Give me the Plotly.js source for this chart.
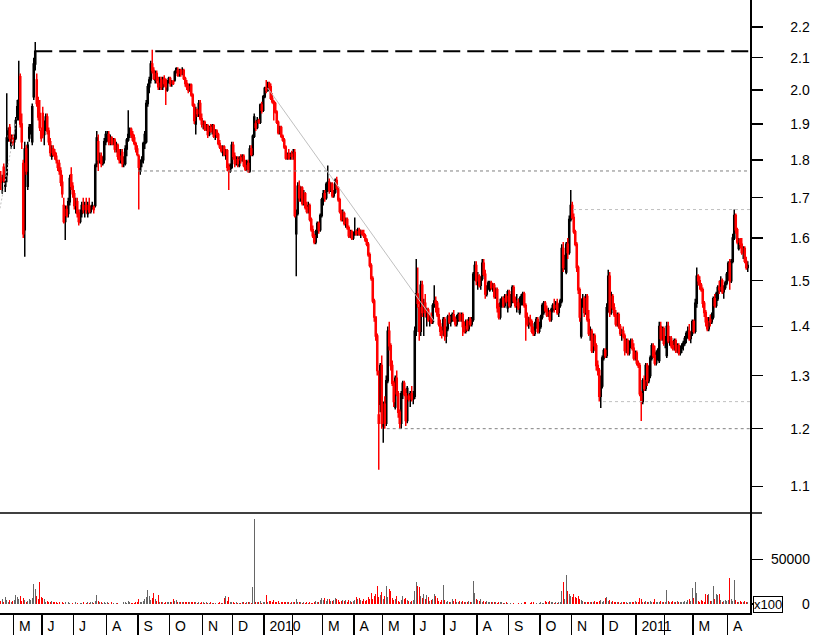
<!DOCTYPE html>
<html><head><meta charset="utf-8">
<script src="https://cdn.plot.ly/plotly-3.0.1.min.js"></script>
<style>html,body{margin:0;padding:0;background:#fff}#chart{width:817px;height:635px}</style>
</head><body><div id="chart"></div>
<script>
// ---- daily bars, Apr 2009 .. Apr 2011 (one line per month) ----
const opens = [].concat(
 [1.75,1.74,1.78,1.73,1.76,1.87,1.89,1.84,1.865],
 [1.85,1.86,1.92,1.95,2.04,1.90,1.79,1.62,1.83,1.73,1.86,1.88,1.85,1.98,2.08,2.03,1.96,1.93,1.86],
 [1.93,1.87,1.90,1.92,1.88,1.85,1.81,1.83,1.82,1.81,1.78,1.79,1.77,1.74,1.68,1.64,1.67,1.66,1.69,1.76,1.73],
 [1.71,1.68,1.69,1.66,1.64,1.66,1.68,1.67,1.68,1.66,1.68,1.665,1.675,1.67,1.68,1.79,1.85,1.80,1.81,1.79,1.80,1.85],
 [1.86,1.87,1.85,1.86,1.845,1.855,1.83,1.84,1.81,1.80,1.82,1.79,1.79,1.83,1.855,1.87,1.885,1.87,1.86,1.845,1.83],
 [1.81,1.77,1.795,1.80,1.845,1.85,1.96,2.01,2.03,2.08,2.06,2.03,2.05,2.02,2.01,2.03,2.01,2.035,2.03,2.00,2.025],
 [2.035,2.02,2.025,2.03,2.055,2.06,2.045,2.06,2.05,2.06,2.035,2.02,2.01,2.00,2.015,1.985,1.955,1.90,1.94,1.93,1.96,1.915],
 [1.90,1.905,1.885,1.895,1.87,1.89,1.88,1.895,1.865,1.88,1.87,1.845,1.835,1.82,1.835,1.815,1.825,1.78,1.77,1.78],
 [1.84,1.81,1.79,1.80,1.785,1.805,1.80,1.81,1.785,1.775,1.79,1.77,1.83,1.815,1.865,1.90,1.89,1.91,1.905,1.955,1.94],
 [1.98,2.005,2.00,2.02,2.01,1.975,1.965,1.96,1.935,1.905,1.875,1.89,1.865,1.855,1.835,1.805,1.815,1.805,1.815],
 [1.81,1.82,1.61,1.66,1.73,1.70,1.725,1.685,1.71,1.675,1.665,1.68,1.645,1.62,1.605,1.59,1.615,1.635,1.62,1.655],
 [1.695,1.71,1.70,1.72,1.74,1.72,1.735,1.705,1.715,1.745,1.725,1.695,1.665,1.645,1.66,1.635,1.645,1.625,1.605,1.615,1.60],
 [1.61,1.615,1.61,1.62,1.61,1.615,1.61,1.605,1.595,1.585,1.56,1.535,1.505,1.455,1.42,1.38,1.21,1.245,1.32],
 [1.205,1.245,1.21,1.29,1.39,1.36,1.32,1.285,1.24,1.295,1.265,1.23,1.21,1.265,1.285,1.265,1.215,1.255,1.26,1.265,1.255],
 [1.26,1.39,1.47,1.44,1.39,1.49,1.43,1.45,1.42,1.435,1.415,1.42,1.41,1.445,1.455,1.45,1.425,1.405,1.39,1.385],
 [1.415,1.38,1.395,1.42,1.41,1.42,1.425,1.415,1.405,1.42,1.425,1.415,1.425,1.40,1.39,1.41,1.395,1.415,1.405,1.415,1.515,1.535],
 [1.50,1.51,1.49,1.505,1.54,1.515,1.47,1.485,1.48,1.495,1.485,1.49,1.465,1.48,1.44,1.42,1.45,1.46,1.445,1.465,1.44],
 [1.475,1.445,1.46,1.485,1.455,1.445,1.45,1.43,1.46,1.45,1.47,1.445,1.42,1.405,1.415,1.41,1.39,1.385,1.405,1.415,1.39],
 [1.40,1.42,1.43,1.45,1.435,1.425,1.43,1.415,1.435,1.445,1.44,1.45,1.43,1.445,1.455,1.575,1.53,1.52,1.585,1.565,1.645],
 [1.68,1.65,1.615,1.585,1.53,1.48,1.38,1.455,1.46,1.43,1.465,1.415,1.385,1.39,1.35,1.38,1.36,1.32,1.31,1.26,1.28],
 [1.335,1.35,1.34,1.44,1.51,1.43,1.465,1.44,1.425,1.405,1.425,1.40,1.385,1.39,1.38,1.35,1.37,1.345,1.365,1.37,1.355,1.335],
 [1.345,1.325,1.32,1.265,1.25,1.29,1.275,1.32,1.29,1.30,1.335,1.36,1.34,1.325,1.345,1.33,1.40,1.375,1.395],
 [1.365,1.34,1.40,1.37,1.375,1.36,1.355,1.37,1.35,1.36,1.345,1.355,1.36,1.365,1.375,1.385,1.39,1.375,1.385],
 [1.41,1.39,1.45,1.51,1.50,1.49,1.48,1.45,1.43,1.41,1.395,1.415,1.41,1.42,1.46,1.445,1.46,1.485,1.48,1.50,1.475,1.485,1.495],
 [1.515,1.54,1.50,1.545,1.60,1.655,1.62,1.575,1.595,1.585,1.565,1.575,1.545,1.53]
);
const highs = [].concat(
 [1.77,1.76,1.79,1.76,1.99,1.89,1.90,1.87,1.87],
 [1.87,1.92,1.97,2.09,2.05,1.93,1.80,1.85,1.84,1.85,1.90,1.90,1.96,2.10,2.15,2.05,1.98,1.97,1.89],
 [1.95,1.91,1.93,1.93,1.89,1.86,1.84,1.84,1.83,1.82,1.80,1.80,1.78,1.76,1.70,1.68,1.68,1.70,1.76,1.78,1.74],
 [1.72,1.70,1.70,1.67,1.67,1.69,1.70,1.69,1.70,1.69,1.70,1.68,1.69,1.68,1.79,1.88,1.87,1.82,1.82,1.81,1.86,1.88],
 [1.88,1.88,1.87,1.865,1.86,1.86,1.85,1.845,1.83,1.83,1.83,1.81,1.84,1.86,1.94,1.89,1.89,1.88,1.87,1.85,1.84],
 [1.815,1.80,1.81,1.85,1.88,1.97,2.02,2.04,2.09,2.125,2.07,2.06,2.06,2.04,2.04,2.04,2.04,2.045,2.035,2.03,2.04],
 [2.04,2.03,2.03,2.06,2.07,2.07,2.065,2.065,2.07,2.065,2.04,2.03,2.02,2.02,2.02,1.99,1.96,1.95,1.945,1.97,1.97,1.93],
 [1.91,1.91,1.90,1.90,1.895,1.90,1.90,1.90,1.885,1.885,1.875,1.855,1.84,1.84,1.84,1.83,1.83,1.79,1.79,1.85],
 [1.85,1.82,1.81,1.81,1.81,1.815,1.815,1.815,1.80,1.80,1.80,1.84,1.84,1.87,1.93,1.91,1.92,1.915,1.96,1.965,1.985],
 [2.01,2.03,2.025,2.025,2.02,1.99,1.97,1.965,1.94,1.91,1.895,1.895,1.87,1.86,1.84,1.82,1.83,1.82,1.825],
 [1.83,1.83,1.67,1.74,1.745,1.73,1.73,1.72,1.715,1.69,1.69,1.685,1.65,1.63,1.61,1.62,1.64,1.64,1.66,1.70],
 [1.72,1.72,1.74,1.785,1.75,1.74,1.74,1.72,1.75,1.755,1.73,1.70,1.67,1.67,1.665,1.65,1.65,1.63,1.62,1.62,1.615],
 [1.65,1.62,1.625,1.625,1.62,1.62,1.62,1.61,1.60,1.59,1.565,1.54,1.51,1.46,1.42,1.385,1.31,1.325,1.34],
 [1.25,1.26,1.30,1.40,1.41,1.365,1.33,1.29,1.30,1.31,1.27,1.235,1.27,1.29,1.29,1.275,1.28,1.265,1.27,1.28,1.27],
 [1.40,1.55,1.53,1.46,1.50,1.50,1.46,1.47,1.44,1.44,1.425,1.43,1.45,1.49,1.465,1.455,1.44,1.415,1.40,1.42],
 [1.42,1.40,1.425,1.43,1.425,1.43,1.435,1.42,1.425,1.43,1.43,1.43,1.43,1.41,1.415,1.415,1.42,1.42,1.42,1.52,1.545,1.545],
 [1.52,1.515,1.51,1.55,1.55,1.525,1.49,1.50,1.50,1.50,1.495,1.495,1.485,1.485,1.45,1.46,1.465,1.465,1.47,1.47,1.48],
 [1.48,1.47,1.49,1.49,1.465,1.47,1.46,1.465,1.47,1.475,1.475,1.45,1.43,1.42,1.425,1.415,1.40,1.41,1.42,1.42,1.41],
 [1.425,1.45,1.455,1.455,1.445,1.44,1.435,1.44,1.45,1.46,1.455,1.46,1.45,1.46,1.585,1.59,1.56,1.59,1.60,1.655,1.72],
 [1.69,1.66,1.62,1.59,1.535,1.485,1.46,1.47,1.465,1.47,1.47,1.435,1.40,1.395,1.385,1.385,1.365,1.33,1.315,1.30,1.34],
 [1.355,1.355,1.45,1.525,1.52,1.475,1.47,1.45,1.435,1.43,1.43,1.405,1.395,1.40,1.385,1.375,1.375,1.37,1.375,1.375,1.365,1.35],
 [1.35,1.33,1.325,1.27,1.295,1.30,1.325,1.325,1.32,1.34,1.365,1.365,1.36,1.35,1.355,1.41,1.41,1.40,1.40],
 [1.38,1.41,1.41,1.38,1.38,1.37,1.375,1.375,1.365,1.365,1.36,1.365,1.37,1.38,1.39,1.40,1.405,1.39,1.415],
 [1.415,1.46,1.53,1.515,1.51,1.495,1.485,1.455,1.435,1.42,1.42,1.425,1.43,1.465,1.47,1.475,1.49,1.50,1.51,1.505,1.49,1.50,1.52],
 [1.545,1.55,1.55,1.61,1.67,1.66,1.625,1.60,1.60,1.60,1.58,1.58,1.555,1.545]
);
const lows = [].concat(
 [1.72,1.71,1.74,1.715,1.74,1.85,1.85,1.83,1.84],
 [1.83,1.855,1.91,1.91,1.89,1.83,1.60,1.555,1.76,1.72,1.85,1.87,1.84,1.97,2.06,1.95,1.91,1.88,1.85],
 [1.86,1.84,1.88,1.87,1.84,1.81,1.80,1.81,1.80,1.79,1.77,1.76,1.73,1.70,1.635,1.595,1.65,1.65,1.68,1.72,1.70],
 [1.67,1.66,1.65,1.63,1.635,1.65,1.66,1.65,1.66,1.65,1.66,1.66,1.67,1.66,1.675,1.78,1.77,1.79,1.78,1.785,1.79,1.84],
 [1.85,1.84,1.84,1.84,1.84,1.82,1.82,1.80,1.79,1.79,1.78,1.78,1.785,1.81,1.85,1.86,1.86,1.85,1.84,1.82,1.81],
 [1.67,1.76,1.78,1.79,1.83,1.845,1.95,1.99,2.02,2.05,2.03,2.02,2.02,2.00,2.00,2.00,2.00,2.01,1.955,1.995,2.02],
 [2.01,2.01,2.015,2.025,2.05,2.04,2.04,2.04,2.045,2.03,2.01,2.00,1.99,1.995,1.98,1.95,1.90,1.87,1.92,1.92,1.91,1.89],
 [1.885,1.88,1.88,1.86,1.865,1.875,1.87,1.86,1.855,1.86,1.84,1.83,1.82,1.81,1.81,1.80,1.77,1.72,1.765,1.775],
 [1.80,1.78,1.785,1.78,1.78,1.79,1.795,1.78,1.77,1.77,1.765,1.765,1.81,1.81,1.86,1.88,1.885,1.90,1.90,1.93,1.935],
 [1.975,1.99,1.995,2.00,1.97,1.96,1.91,1.93,1.90,1.87,1.87,1.86,1.85,1.83,1.80,1.80,1.80,1.80,1.80],
 [1.80,1.65,1.51,1.655,1.69,1.69,1.68,1.68,1.67,1.66,1.66,1.64,1.615,1.60,1.585,1.585,1.60,1.61,1.615,1.65],
 [1.68,1.69,1.695,1.715,1.71,1.715,1.70,1.70,1.71,1.72,1.69,1.66,1.64,1.64,1.63,1.625,1.62,1.60,1.60,1.595,1.595],
 [1.605,1.605,1.605,1.605,1.60,1.605,1.60,1.59,1.58,1.555,1.53,1.50,1.45,1.41,1.37,1.30,1.128,1.23,1.20],
 [1.175,1.20,1.205,1.285,1.35,1.31,1.28,1.24,1.235,1.26,1.22,1.20,1.20,1.255,1.26,1.205,1.21,1.25,1.24,1.25,1.245],
 [1.255,1.38,1.44,1.37,1.38,1.42,1.38,1.42,1.40,1.41,1.40,1.405,1.405,1.44,1.43,1.42,1.40,1.38,1.375,1.38],
 [1.37,1.365,1.39,1.405,1.40,1.41,1.41,1.40,1.40,1.41,1.41,1.41,1.38,1.385,1.385,1.39,1.39,1.40,1.40,1.41,1.50,1.49],
 [1.48,1.485,1.48,1.50,1.51,1.46,1.465,1.48,1.475,1.48,1.475,1.46,1.46,1.43,1.415,1.415,1.44,1.44,1.44,1.45,1.43],
 [1.44,1.44,1.45,1.45,1.44,1.43,1.435,1.425,1.445,1.445,1.44,1.37,1.40,1.395,1.40,1.385,1.38,1.38,1.395,1.385,1.385],
 [1.395,1.415,1.425,1.43,1.42,1.42,1.41,1.41,1.43,1.43,1.435,1.425,1.42,1.44,1.45,1.52,1.525,1.515,1.55,1.56,1.64],
 [1.645,1.61,1.58,1.52,1.47,1.41,1.375,1.44,1.42,1.425,1.41,1.38,1.37,1.345,1.345,1.35,1.31,1.30,1.25,1.238,1.275],
 [1.33,1.335,1.335,1.43,1.42,1.425,1.435,1.42,1.40,1.40,1.395,1.38,1.37,1.375,1.34,1.345,1.34,1.34,1.355,1.35,1.33,1.33],
 [1.32,1.315,1.26,1.214,1.245,1.27,1.27,1.28,1.285,1.295,1.33,1.335,1.32,1.32,1.33,1.325,1.37,1.37,1.36],
 [1.355,1.335,1.365,1.36,1.355,1.35,1.35,1.345,1.345,1.34,1.34,1.345,1.35,1.36,1.365,1.375,1.37,1.365,1.38],
 [1.385,1.385,1.44,1.49,1.48,1.475,1.44,1.42,1.40,1.39,1.39,1.40,1.405,1.415,1.44,1.44,1.455,1.47,1.475,1.47,1.46,1.48,1.49],
 [1.50,1.48,1.495,1.54,1.595,1.61,1.585,1.57,1.575,1.56,1.55,1.54,1.525,1.52]
);
const closes = [].concat(
 [1.74,1.75,1.745,1.75,1.86,1.88,1.86,1.865,1.85],
 [1.86,1.91,1.95,1.97,1.90,1.85,1.61,1.83,1.77,1.84,1.89,1.895,1.95,2.08,2.12,1.96,1.92,1.89,1.88],
 [1.87,1.90,1.92,1.88,1.85,1.82,1.83,1.815,1.81,1.80,1.79,1.77,1.74,1.71,1.64,1.67,1.655,1.69,1.75,1.73,1.71],
 [1.68,1.69,1.66,1.64,1.66,1.68,1.67,1.68,1.67,1.68,1.665,1.675,1.68,1.675,1.785,1.86,1.80,1.81,1.79,1.80,1.85,1.87],
 [1.87,1.85,1.86,1.845,1.855,1.83,1.84,1.81,1.80,1.82,1.79,1.80,1.83,1.855,1.87,1.885,1.87,1.855,1.845,1.83,1.815],
 [1.78,1.795,1.80,1.845,1.87,1.96,2.01,2.03,2.08,2.06,2.035,2.05,2.03,2.01,2.03,2.01,2.035,2.02,2.01,2.025,2.035],
 [2.02,2.025,2.02,2.055,2.065,2.045,2.06,2.05,2.06,2.035,2.02,2.01,2.00,2.015,1.985,1.955,1.91,1.94,1.93,1.96,1.915,1.90],
 [1.905,1.885,1.895,1.87,1.89,1.88,1.895,1.865,1.88,1.87,1.845,1.835,1.825,1.835,1.815,1.825,1.78,1.77,1.785,1.84],
 [1.81,1.79,1.80,1.79,1.805,1.80,1.81,1.785,1.775,1.795,1.77,1.83,1.815,1.865,1.92,1.89,1.91,1.905,1.955,1.94,1.98],
 [2.005,2.00,2.02,2.01,1.975,1.965,1.96,1.935,1.905,1.875,1.89,1.865,1.855,1.835,1.805,1.815,1.805,1.815,1.81],
 [1.82,1.655,1.66,1.73,1.70,1.725,1.685,1.71,1.675,1.665,1.68,1.645,1.62,1.605,1.59,1.615,1.635,1.62,1.655,1.695],
 [1.71,1.70,1.735,1.74,1.72,1.735,1.705,1.715,1.745,1.725,1.695,1.665,1.645,1.66,1.635,1.645,1.625,1.605,1.615,1.60,1.61],
 [1.615,1.61,1.62,1.61,1.615,1.61,1.605,1.595,1.585,1.56,1.535,1.505,1.455,1.42,1.38,1.31,1.225,1.32,1.21],
 [1.245,1.21,1.29,1.39,1.36,1.32,1.285,1.25,1.295,1.265,1.23,1.21,1.265,1.285,1.265,1.215,1.275,1.26,1.265,1.255,1.265],
 [1.39,1.47,1.45,1.39,1.49,1.43,1.45,1.43,1.435,1.415,1.42,1.41,1.445,1.455,1.45,1.425,1.405,1.39,1.385,1.415],
 [1.38,1.395,1.42,1.41,1.42,1.425,1.415,1.405,1.42,1.425,1.415,1.425,1.40,1.39,1.41,1.395,1.415,1.405,1.415,1.515,1.535,1.50],
 [1.51,1.49,1.505,1.54,1.515,1.47,1.485,1.495,1.495,1.485,1.49,1.465,1.48,1.44,1.42,1.45,1.46,1.445,1.465,1.455,1.475],
 [1.445,1.46,1.485,1.455,1.445,1.45,1.44,1.46,1.465,1.47,1.445,1.42,1.405,1.415,1.41,1.39,1.385,1.405,1.415,1.39,1.40],
 [1.42,1.445,1.45,1.435,1.425,1.43,1.415,1.435,1.445,1.44,1.45,1.43,1.445,1.455,1.575,1.53,1.55,1.585,1.565,1.645,1.68],
 [1.65,1.615,1.585,1.53,1.48,1.42,1.455,1.46,1.43,1.465,1.415,1.385,1.39,1.35,1.38,1.36,1.32,1.31,1.26,1.28,1.335],
 [1.35,1.34,1.44,1.51,1.43,1.465,1.44,1.425,1.405,1.425,1.40,1.385,1.39,1.38,1.35,1.37,1.345,1.365,1.37,1.355,1.335,1.345],
 [1.325,1.32,1.265,1.25,1.29,1.275,1.32,1.29,1.31,1.335,1.36,1.34,1.325,1.345,1.35,1.40,1.375,1.395,1.365],
 [1.375,1.40,1.37,1.375,1.36,1.355,1.37,1.35,1.36,1.345,1.355,1.36,1.365,1.375,1.385,1.39,1.375,1.385,1.41],
 [1.39,1.45,1.51,1.50,1.49,1.48,1.45,1.43,1.41,1.395,1.415,1.41,1.425,1.46,1.445,1.47,1.485,1.48,1.50,1.475,1.485,1.495,1.515],
 [1.54,1.50,1.545,1.60,1.655,1.62,1.59,1.595,1.585,1.565,1.575,1.545,1.53,1.535]
);
// volume (units of 100 shares)
const volumes = [].concat(
 [4000,6000,3000,8000,5000,2000,5000,3000,4000],
 [5000,10000,8000,6000,9000,4000,7000,5000,3000,4000,6000,5000,7000,23000,16500,9000,6000,25000,8000],
 [7000,6000,3000,4000,2000,3000,4000,2000,3000,2000,1500,3000,0,2000,1500,3000,0,2000,1000,0,1500],
 [0,2000,1500,0,1500,1000,2000,0,1500,2500,1000,2000,3000,1500,4000,10500,4000,2000,3000,1500,3000,1000],
 [2500,1500,0,2000,1000,0,1000,1500,0,0,0,2000,2500,1000,3500,2000,1000,1500,1000,2000,3000],
 [5700,3000,2000,4000,6000,8000,15500,9000,5000,7000,13000,6000,4000,10000,3000,2500,3000,1500,2500,2000,3000],
 [2500,3000,6000,4000,5000,3000,2500,3000,2000,3000,2500,2000,3000,2000,2500,3000,2000,2500,1500,2000,1500,2500],
 [2000,1500,2000,1000,1500,2000,1000,1500,1000,0,1500,2000,1000,1500,7000,9000,4000,8000,3000,2500],
 [2000,1500,2500,1000,1500,1000,3000,2000,1500,2500,3000,2000,1500,19000,95000,2500,3000,2000,4000,1500,2500],
 [3000,10000,2500,4000,3500,2000,4500,3000,2000,3500,1500,2500,3000,2000,3000,2500,2000,1500,2000],
 [2500,3000,6000,2000,2500,3000,1500,2000,1500,2500,1000,2000,1500,1000,2000,3500,2000,3000,5000,6500],
 [5000,7000,4000,6000,5500,3500,4000,5000,7000,5500,4500,3000,4000,5000,3500,4500,3000,5000,4000,2500,3500],
 [5000,7500,6000,7000,4500,3500,6000,4000,5000,8000,6000,12000,6000,9000,11000,20000,8000,10000,14000],
 [6000,9000,20000,8000,17000,15000,7000,5000,6000,9000,4000,3000,5000,9000,6000,7000,5000,4000,3000,4000,5000],
 [15000,24500,20000,19000,9000,7000,11000,6000,10000,8000,4000,5000,6000,11000,9000,7000,4000,3000,5000,21000],
 [5000,3000,4000,2500,3000,6000,4000,5500,3000,2000,3500,2000,4000,3000,2500,2000,3500,2000,3000,25500,13000,6000],
 [5000,4000,5500,3000,3500,2500,4000,3000,2000,2500,3000,2000,2500,1500,3000,2000,2500,1000,1500,2000,1000],
 [0,1500,0,1000,0,0,1500,0,1000,0,3000,2500,0,0,1000,3000,2000,0,1000,0,1500],
 [2000,1500,1000,3500,3000,2000,3500,2500,2000,1500,2000,1000,2500,3000,15000,24500,6000,33000,15000,11000,9000],
 [8000,11000,8000,7000,9000,6000,5000,4000,3000,2500,3000,2000,2500,3000,2000,3500,2500,3000,4000,5000,3000],
 [4000,7000,8000,4000,5000,3000,3500,2000,2500,3000,2000,1500,2500,3000,2000,2500,1500,3000,2500,2000,3000,4000],
 [2500,3000,7000,6000,3000,2500,4000,3000,2000,3500,2500,3000,6000,2500,3000,2000,4000,2500,3000],
 [3000,16000,4000,3000,2500,3500,2000,3000,4000,2500,3000,2000,3000,4000,3000,5000,6000,4000,18000],
 [7000,24500,12000,4000,3000,5000,4000,3000,11000,10000,11000,4000,3500,20000,6000,11000,10000,11000,5000,3000,4000,5000,3500],
 [5000,29000,6000,4000,26500,5000,3000,2500,3500,2000,3000,4000,2500,3000]
);
// first bar index of each month and its label
const monthStart = [9,28,49,71,92,113,135,155,176,195,215,236,255,276,296,318,339,360,381,402,424,443,462,485];
const monthLabel = ['M','J','J','A','S','O','N','D','2010','','M','A','M','J','J','A','S','O','N','D','2011','','M','A'];
const priceTicks = [1.1,1.2,1.3,1.4,1.5,1.6,1.7,1.8,1.9,2.0,2.1,2.2];
const priceMinor = [1.15,1.25,1.35,1.45,1.55,1.65,1.75,1.85,1.95,2.05,2.15];
const volTicks = [0,50000];
const volMinor = [10000,20000,30000,40000,60000,70000,80000,90000];
// support / resistance levels: price and bar index where the line begins
const levelPrice = [2.12, 1.77, 1.67, 1.25, 1.20];
const levelFrom  = [23, 91.5, 381.5, 401.5, 257.3];
// trend lines (bar index, price)
const trendIdx = [178, 289.5];
const trendPrice = [2.006, 1.409];
const trend2Idx = [-0.5, 10.2];
const trend2Price = [1.673, 1.906];

const N = closes.length;
const idx = closes.map((_, i) => i);
const isUp = closes.map((c, i) => i === 0 ? c >= opens[i] : c >= closes[i - 1]);
const RED = '#ff0000', BLACK = '#000000', VGRAY = '#666666';
const X_END = N + 0.5;

function candle(want, color) {
  const xs = idx.filter(i => isUp[i] === want);
  return {
    type: 'candlestick', xaxis: 'x', yaxis: 'y',
    x: xs, open: xs.map(i => opens[i]), high: xs.map(i => highs[i]),
    low: xs.map(i => lows[i]), close: xs.map(i => closes[i]),
    increasing: {line: {color: color, width: 1.5}, fillcolor: '#ffffff'},
    decreasing: {line: {color: color, width: 1.5}, fillcolor: color},
    whiskerwidth: 0, hoverinfo: 'skip', showlegend: false
  };
}
const levelStyle = [
  {color: '#000000', width: 2, dash: '17px,7px'},
  {color: '#808080', width: 1, dash: '3px,3px'},
  {color: '#c0c0c0', width: 1, dash: '3px,3px'},
  {color: '#c0c0c0', width: 1, dash: '3px,3px'},
  {color: '#808080', width: 1, dash: '3px,3px'}
];
const traces = [];
levelPrice.forEach((p, k) => traces.push({
  type: 'scatter', mode: 'lines', xaxis: 'x', yaxis: 'y',
  x: [levelFrom[k], X_END], y: [p, p], line: levelStyle[k], hoverinfo: 'skip', showlegend: false
}));
traces.push({type: 'scatter', mode: 'lines', xaxis: 'x', yaxis: 'y', x: trendIdx, y: trendPrice,
  line: {color: '#c0c0c0', width: 1}, hoverinfo: 'skip', showlegend: false});
traces.push({type: 'scatter', mode: 'lines', xaxis: 'x', yaxis: 'y', x: trend2Idx, y: trend2Price,
  line: {color: '#c0c0c0', width: 1, dash: '2px,2px'}, hoverinfo: 'skip', showlegend: false});
traces.push(candle(true, BLACK));
traces.push(candle(false, RED));
traces.push({
  type: 'bar', xaxis: 'x', yaxis: 'y2', x: idx, y: volumes, width: 0.7,
  marker: {color: idx.map(i => isUp[i] ? VGRAY : RED), line: {width: 0}},
  hoverinfo: 'skip', showlegend: false
});

const PLOT_W = 750, PLOT_H = 613;
const VOL_FRAC = 100 / PLOT_H;
const priceRange = [Math.log10(1.0567), Math.log10(2.2907)];
const volRange = [-9800, 101500];
const FONT = '"Liberation Sans", Arial, Helvetica, sans-serif';

const layout = {
  width: 817, height: 635,
  margin: {l: 0, r: 67, t: 0, b: 22, pad: 0},
  paper_bgcolor: '#ffffff', plot_bgcolor: '#ffffff',
  showlegend: false, hovermode: false, boxgap: 0, bargap: 0,
  font: {family: FONT, size: 14, color: '#000'},
  xaxis: {
    domain: [0, 1], range: [-0.5, X_END], anchor: 'y2',
    showgrid: false, zeroline: false, showline: true, linecolor: '#000', linewidth: 1.5,
    ticks: 'outside', ticklen: 22, tickwidth: 1.5, tickcolor: '#000',
    tickmode: 'array', tickvals: monthStart.map(i => i - 0.5), ticktext: monthLabel,
    ticklabelposition: 'outside right', ticklabelshift: 4, ticklabelstandoff: 0,
    tickfont: {family: FONT, size: 14, color: '#000'},
    rangeslider: {visible: false}
  },
  yaxis: {
    domain: [VOL_FRAC, 1], type: 'log', range: priceRange, side: 'right', anchor: 'x',
    showgrid: false, zeroline: false, showline: true, linecolor: '#000', linewidth: 1.5,
    ticks: 'outside', ticklen: 11, tickwidth: 1.5, tickcolor: '#000',
    tickmode: 'array', tickvals: priceTicks, ticktext: priceTicks.map(v => v.toFixed(1)),
    ticklabelstandoff: 25, tickfont: {family: FONT, size: 14, color: '#000'}
  },
  yaxis4: {
    overlaying: 'y', type: 'log', range: priceRange, side: 'right', anchor: 'x',
    showgrid: false, zeroline: false, showline: false,
    ticks: 'outside', ticklen: 6, tickwidth: 1.5, tickcolor: '#000',
    tickmode: 'array', tickvals: priceMinor, showticklabels: false
  },
  yaxis2: {
    domain: [0, VOL_FRAC], range: volRange, side: 'right', anchor: 'x',
    showgrid: false, zeroline: false, showline: true, linecolor: '#000', linewidth: 1.5,
    ticks: 'outside', ticklen: 11, tickwidth: 1.5, tickcolor: '#000',
    tickmode: 'array', tickvals: volTicks, showticklabels: false
  },
  yaxis3: {
    overlaying: 'y2', range: volRange, side: 'right', anchor: 'x',
    showgrid: false, zeroline: false, showline: false,
    ticks: 'outside', ticklen: 6, tickwidth: 1.5, tickcolor: '#000',
    tickmode: 'array', tickvals: volMinor, showticklabels: false
  },
  shapes: [
    {type: 'line', xref: 'paper', yref: 'paper', x0: 0, x1: 762 / PLOT_W, y0: VOL_FRAC, y1: VOL_FRAC,
     line: {color: '#000', width: 1.5}}
  ],
  annotations: volTicks.map(v => ({
    xref: 'paper', yref: 'y2', x: 812 / PLOT_W, y: v, xanchor: 'right', yanchor: 'middle',
    text: String(v), showarrow: false, font: {family: FONT, size: 14, color: '#000'}
  })).concat([{
    xref: 'paper', yref: 'y2', x: 753 / PLOT_W, y: 0, xanchor: 'left', yanchor: 'middle',
    text: 'x100', showarrow: false, bordercolor: '#000', borderwidth: 1, borderpad: 0,
    bgcolor: '#ffffff', font: {family: FONT, size: 13, color: '#000'}
  }])
};
Plotly.newPlot('chart', traces, layout, {staticPlot: true, displayModeBar: false});
</script>
</body></html>
